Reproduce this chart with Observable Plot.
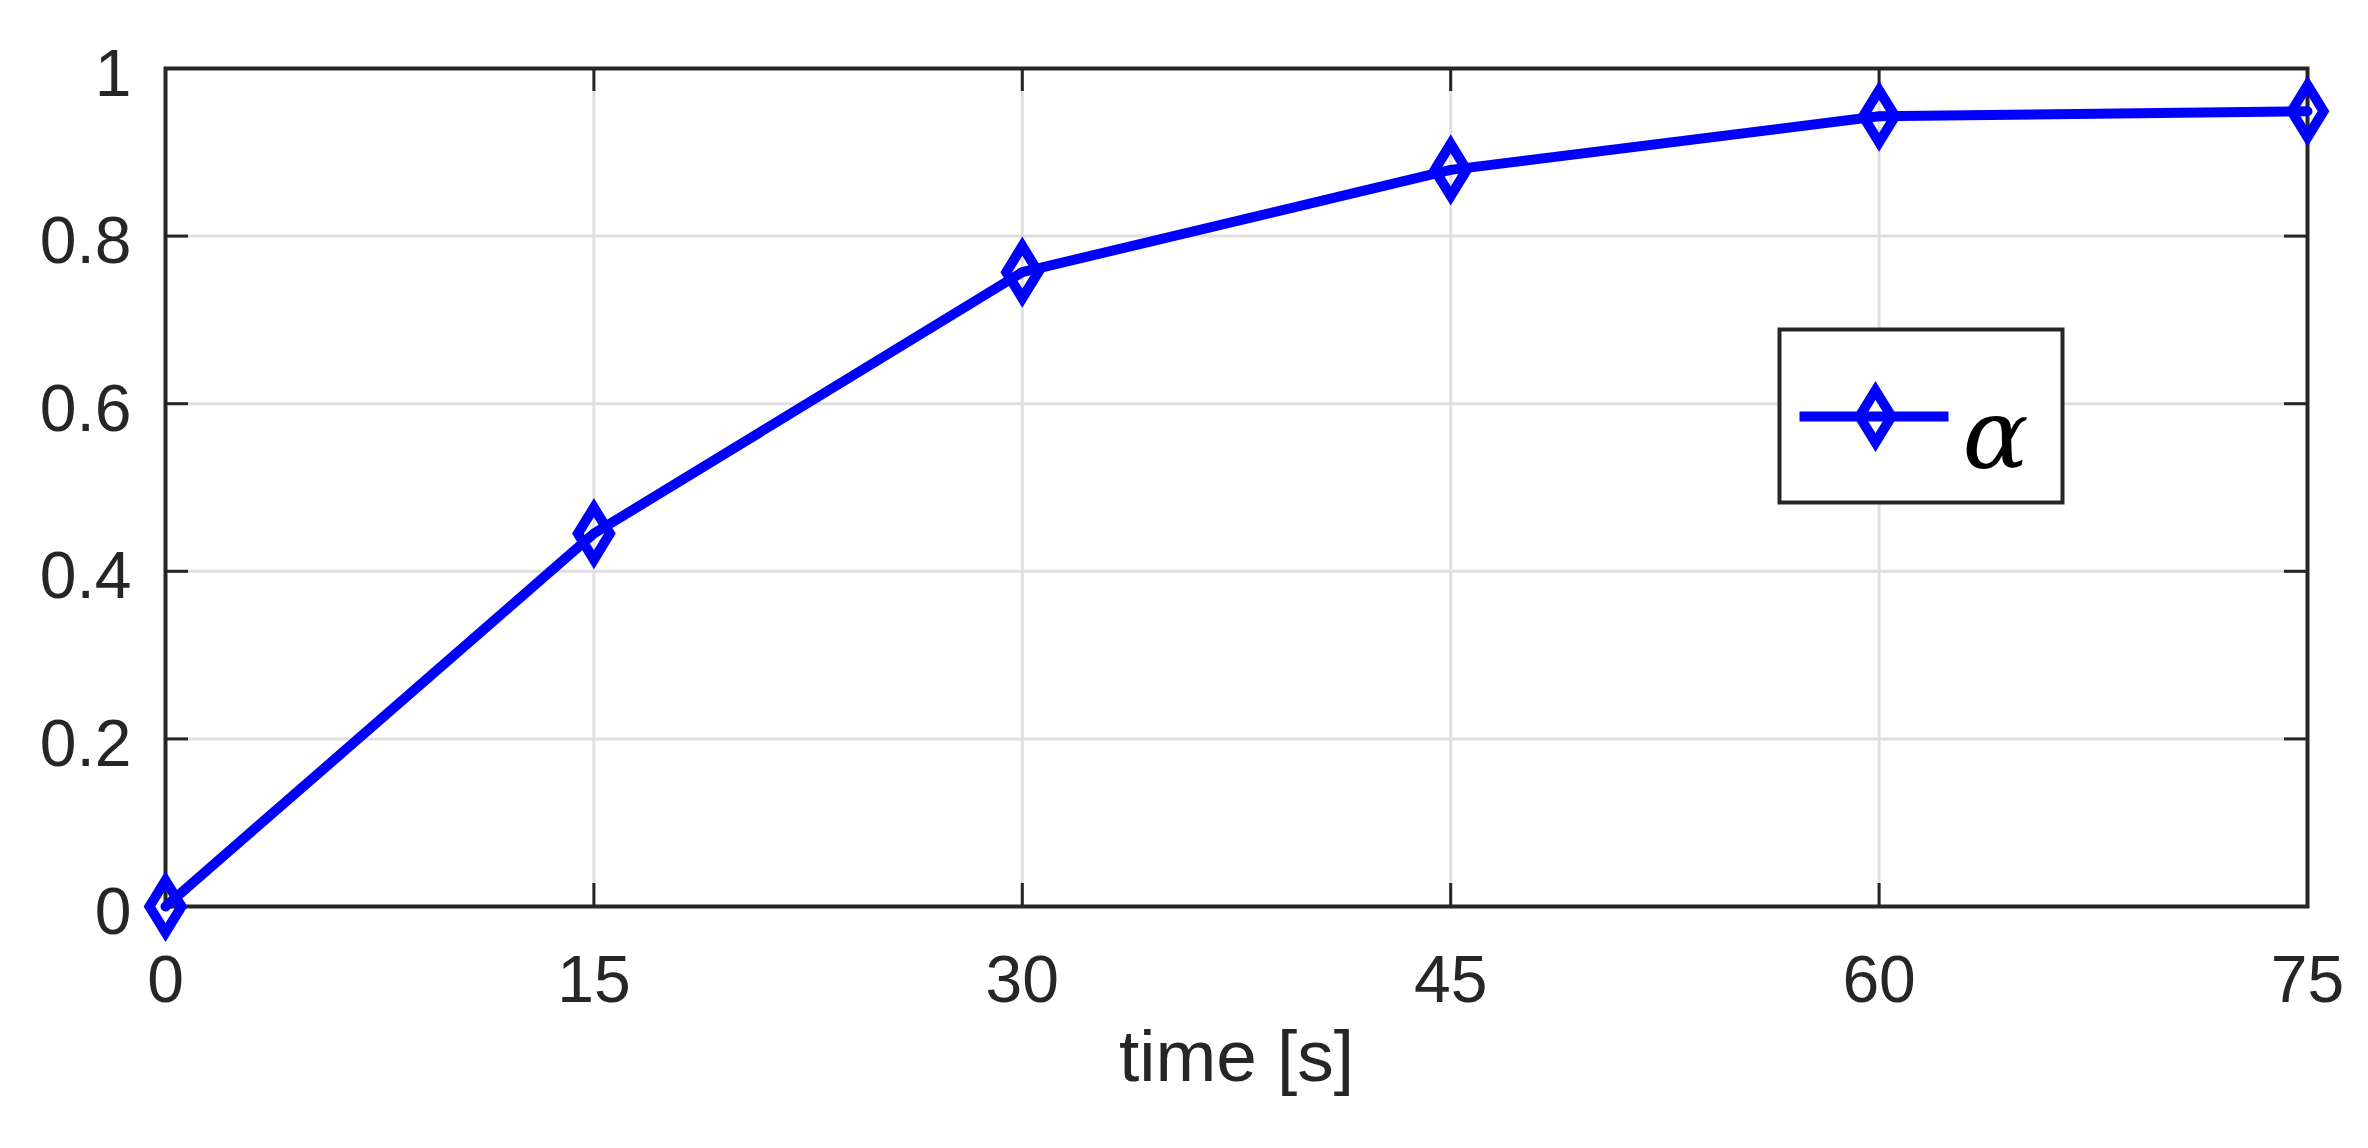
<!DOCTYPE html>
<html>
<head>
<meta charset="utf-8">
<script src="https://cdn.jsdelivr.net/npm/d3@7"></script>
<script src="https://cdn.jsdelivr.net/npm/@observablehq/plot@0.6"></script>
<style>
  html, body { margin: 0; padding: 0; background: #ffffff; }
  #chart svg { display: block; }
</style>
</head>
<body>
<div id="chart"></div>
<script>
// ---- data ----
const time = [0, 15, 30, 45, 60, 75];
const alphaValues = [0, 0.445, 0.757, 0.879, 0.943, 0.949];
const xTicks = [0, 15, 30, 45, 60, 75];
const yTicks = [0, 0.2, 0.4, 0.6, 0.8, 1];
const yTickLabels = ["0", "0.2", "0.4", "0.6", "0.8", "1"];
const xLabel = "time [s]";
const seriesName = "α";

const rows = time.map((t, i) => ({t, a: alphaValues[i]}));

// ---- layout ----
const W = 2368, H = 1148;
const mL = 165, mR = 61, mT = 68, mB = 242;
const pw = W - mL - mR, ph = H - mT - mB;
const ink = "#262626";
const blue = "#0000ff";
const tickLen = 23;

const diamond = {
  draw(ctx) {
    ctx.moveTo(0, -26);
    ctx.lineTo(16, 0);
    ctx.lineTo(0, 26);
    ctx.lineTo(-16, 0);
    ctx.closePath();
  }
};

// legend box geometry (pixel offsets inside the frame)
const lgL = 1779 - mL, lgR = (mL + pw) - 2062, lgT = 329 - mT, lgB = (mT + ph) - 502;
const lgLineY = 416 - mT;

const chart = Plot.plot({
  width: W,
  height: H,
  marginLeft: mL,
  marginRight: mR,
  marginTop: mT,
  marginBottom: mB,
  style: {background: "#ffffff", color: ink, fontFamily: "'Liberation Sans', Arial, Helvetica, sans-serif"},
  x: {domain: [0, 75]},
  y: {domain: [0, 1]},
  marks: [
    Plot.gridX(xTicks.slice(1, -1), {stroke: "#dfdfdf", strokeOpacity: 1, strokeWidth: 3}),
    Plot.gridY(yTicks.slice(1, -1), {stroke: "#dfdfdf", strokeOpacity: 1, strokeWidth: 3}),
    // inward ticks
    Plot.ruleX(xTicks, {x: d => d, insetTop: ph - tickLen, stroke: ink, strokeWidth: 3}),
    Plot.ruleX(xTicks, {x: d => d, insetBottom: ph - tickLen, stroke: ink, strokeWidth: 3}),
    Plot.ruleY(yTicks, {y: d => d, insetRight: pw - tickLen, stroke: ink, strokeWidth: 3}),
    Plot.ruleY(yTicks, {y: d => d, insetLeft: pw - tickLen, stroke: ink, strokeWidth: 3}),
    Plot.axisX({ticks: xTicks, tickSize: 0, tickPadding: 49, fontSize: 66, label: null, tickFormat: d => String(d)}),
    Plot.axisY({ticks: yTicks, tickSize: 0, tickPadding: 34, fontSize: 66, label: null, dy: 6,
      tickFormat: d => yTickLabels[yTicks.indexOf(d)]}),
    Plot.text([xLabel], {frameAnchor: "bottom", dy: 174, fontSize: 73, fill: ink}),
    Plot.frame({stroke: ink, strokeWidth: 4}),
    // data
    Plot.line(rows, {x: "t", y: "a", stroke: blue, strokeWidth: 10}),
    Plot.dot(rows, {x: "t", y: "a", symbol: diamond, stroke: blue, strokeWidth: 10, fill: "none"}),
    // legend
    Plot.frame({insetLeft: lgL, insetRight: lgR, insetTop: lgT, insetBottom: lgB, fill: "#ffffff", stroke: ink, strokeWidth: 4}),
    Plot.frame({insetLeft: 1799 - mL, insetRight: (mL + pw) - 1948, insetTop: lgLineY - 5, insetBottom: ph - lgLineY - 5, fill: blue, stroke: "none"}),
    Plot.dot([seriesName], {frameAnchor: "top-left", dx: 1875 - mL, dy: lgLineY, symbol: diamond, stroke: blue, strokeWidth: 10, fill: "none"}),
    Plot.text([seriesName], {frameAnchor: "top-left", lineAnchor: "middle", dx: 1962 - mL, dy: 368, textAnchor: "start", fontSize: 98,
      fontStyle: "italic", fontFamily: "'DejaVu Serif', 'Liberation Serif', serif", fill: "#000000"})
  ]
});
document.getElementById("chart").appendChild(chart);
</script>
</body>
</html>
